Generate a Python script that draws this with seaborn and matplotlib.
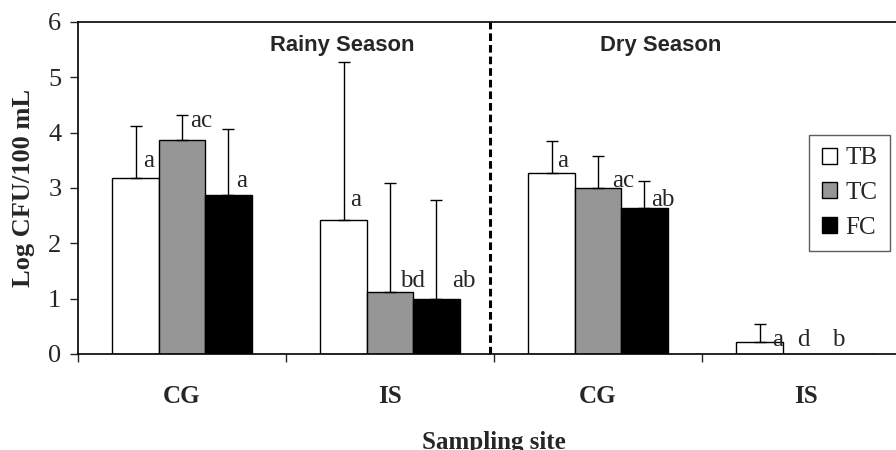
import seaborn as sns
import matplotlib.pyplot as plt
import numpy as np
import pandas as pd

# données
groups = ['Rainy CG', 'Rainy IS', 'Dry CG', 'Dry IS']
site_labels = ['CG', 'IS', 'CG', 'IS']
indicators = ['TB', 'TC', 'FC']
tb_mean = [3.18, 2.43, 3.28, 0.22]
tc_mean = [3.87, 1.12, 3.00, 0.0]
fc_mean = [2.87, 1.00, 2.63, 0.0]
tb_err = [0.94, 2.84, 0.57, 0.32]
tc_err = [0.45, 1.97, 0.57, 0.0]
fc_err = [1.20, 1.78, 0.49, 0.0]
tb_letters = ['a', 'a', 'a', 'a']
tc_letters = ['ac', 'bd', 'ac', 'd']
fc_letters = ['a', 'ab', 'ab', 'b']

# placement des lettres (décalage en x par rapport à la barre, hauteur en y)
tb_lab_dx = [0.065, 0.06, 0.055, 0.085]
tc_lab_dx = [0.09, 0.11, 0.12, -0.015]
fc_lab_dx = [0.065, 0.13, 0.09, -0.07]
tb_lab_y = [3.38, 2.68, 3.38, 0.15]
tc_lab_y = [4.10, 1.21, 3.02, 0.15]
fc_lab_y = [3.02, 1.21, 2.68, 0.15]

df = pd.DataFrame({
    'group': groups * 3,
    'indicator': np.repeat(indicators, 4),
    'value': tb_mean + tc_mean + fc_mean,
})

sns.set_style('white')
plt.rcParams['font.family'] = ['Liberation Serif', 'DejaVu Serif']

fig = plt.figure(figsize=(8.96, 4.5), dpi=100)
ax = fig.add_axes([78 / 896, 96 / 450, 832 / 896, 332 / 450])

bar_w = 0.67
sns.barplot(data=df, x='group', y='value', hue='indicator', order=groups,
            hue_order=indicators, palette=['white', '#969696', 'black'],
            edgecolor='black', linewidth=1, width=bar_w, errorbar=None,
            saturation=1, ax=ax)

errs = [tb_err, tc_err, fc_err]
letters = [tb_letters, tc_letters, fc_letters]
lab_dx = [tb_lab_dx, tc_lab_dx, fc_lab_dx]
lab_y = [tb_lab_y, tc_lab_y, fc_lab_y]
for bar in ax.patches:
    if bar is None or bar.get_width() <= 0 or bar.get_width() > 0.5:
        continue
    xc = bar.get_x() + bar.get_width() / 2
    i = int(round(xc))
    k = int(round((xc - i) / (bar_w / 3))) + 1
    h = bar.get_height()
    if errs[k][i] > 0:
        ax.errorbar(xc, h, yerr=[[0], [errs[k][i]]], fmt='none', ecolor='black',
                    elinewidth=1, capsize=4.5, capthick=1)
    ax.text(xc + lab_dx[k][i], lab_y[k][i], letters[k][i], ha='center',
            va='baseline', fontsize=18)

ax.axvline(1.48, color='black', lw=2.2, ls=(0, (2.5, 1.3)))
ax.text(0.77, 5.57, 'Rainy Season', ha='center', va='center', fontsize=15.8,
        fontweight='bold', family='Liberation Sans')
ax.text(2.30, 5.57, 'Dry Season', ha='center', va='center', fontsize=15.8,
        fontweight='bold', family='Liberation Sans')

ax.set_xlim(-0.5, 3.5)
ax.set_ylim(0, 6)
ax.set_yticks(range(7))
ax.tick_params(axis='y', direction='out', length=6, width=1, labelsize=19, pad=6, left=True)
ax.set_xticks([-0.5, 0.5, 1.5, 2.5, 3.5])
ax.set_xticklabels([])
ax.tick_params(axis='x', which='major', direction='out', length=6, width=1, bottom=True)
ax.set_xticks(range(4), minor=True)
ax.set_xticklabels(site_labels, minor=True, fontsize=18, fontweight='bold')
ax.tick_params(axis='x', which='minor', length=0, pad=22)

ax.set_xlabel('Sampling site', fontsize=18, fontweight='bold', labelpad=17)
ax.set_ylabel('Log CFU/100 mL', fontsize=19, fontweight='bold')
ax.yaxis.set_label_coords(-0.052, 0.5)

for s in ['left', 'top', 'bottom']:
    ax.spines[s].set_visible(True)
    ax.spines[s].set_color('black')
    ax.spines[s].set_linewidth(1.2)
ax.spines['right'].set_visible(False)

handles, labels = ax.get_legend_handles_labels()
leg = ax.legend(handles, labels, loc='upper left', bbox_to_anchor=(809 / 896, 1 - 135 / 450),
                bbox_transform=fig.transFigure, fontsize=18, frameon=True, fancybox=False,
                edgecolor='#333333', handlelength=0.6, handleheight=0.6, labelspacing=0.5,
                handletextpad=0.35, borderpad=0.5, borderaxespad=0)
leg.get_frame().set_linewidth(1)

plt.savefig('out.png', dpi=100)
